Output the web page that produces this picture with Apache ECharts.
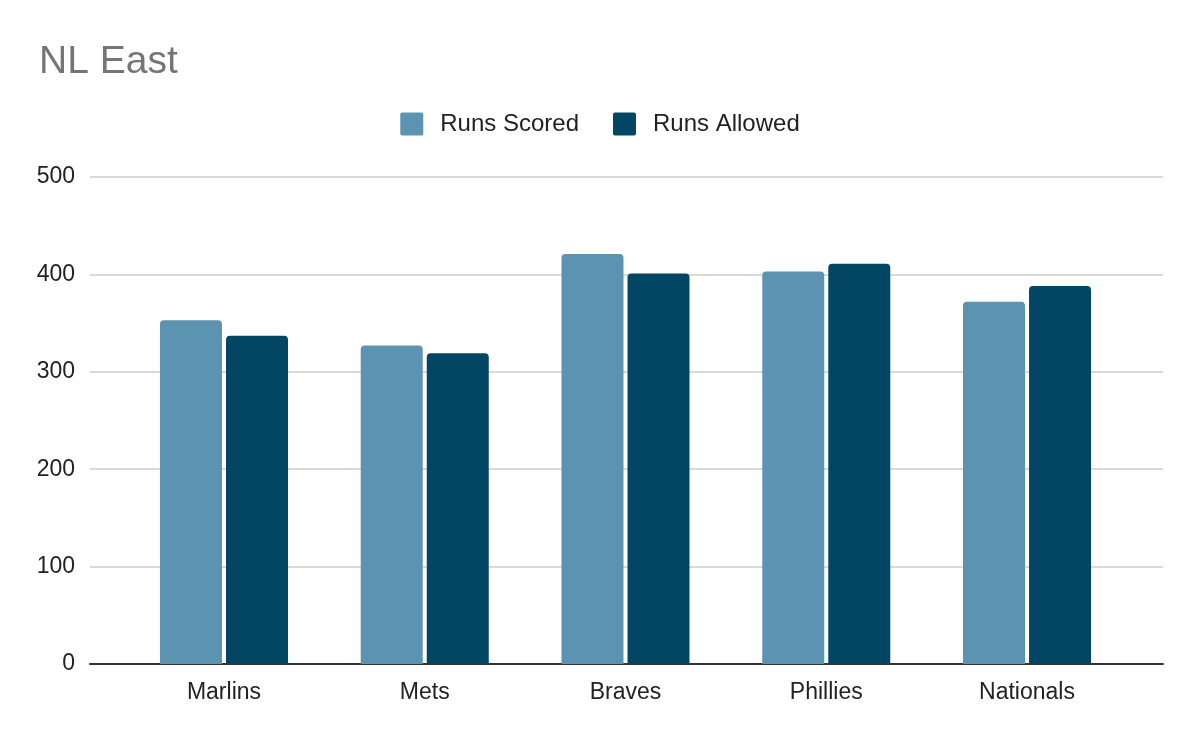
<!DOCTYPE html>
<html>
<head>
<meta charset="utf-8">
<script src="https://cdn.jsdelivr.net/npm/echarts@6/dist/echarts.min.js"></script>
<style>html,body{margin:0;padding:0;background:#fff}#chart{width:1200px;height:742px}</style>
</head>
<body>
<div id="chart"></div>
<script>
const categories = ['Marlins', 'Mets', 'Braves', 'Phillies', 'Nationals'];
const runsScored = [353, 327, 421, 403, 372];
const runsAllowed = [337, 319, 401, 411, 388];
const seriesNames = ['Runs Scored', 'Runs Allowed'];
const yTicks = { min: 0, max: 500, interval: 100 };

const chart = echarts.init(document.getElementById('chart'));
const font = "'Liberation Sans', Arial, sans-serif";
const square = 'path://M2,0 H21 Q23,0 23,2 V21 Q23,23 21,23 H2 Q0,23 0,21 V2 Q0,0 2,0 Z';
chart.setOption({
  backgroundColor: '#fff',
  animation: false,
  title: {
    text: 'NL East', left: 34, top: 38,
    textStyle: { fontFamily: font, fontSize: 39, fontWeight: 'normal', color: '#757575' }
  },
  legend: {
    data: seriesNames.map(n => ({ name: n, icon: square })), top: 107, left: 'center', itemWidth: 23, itemHeight: 23, itemGap: 34,
    textStyle: { fontFamily: font, fontSize: 24, color: '#222', padding: [0, 0, 0, 12] }
  },
  grid: [
    { left: 90, right: 37, top: 177, bottom: 78 },
    { left: 123.6, right: 72.6, top: 177, bottom: 78 }
  ],
  xAxis: [
    { gridIndex: 0, type: 'value', min: 0, max: 1, axisLine: { show: true, lineStyle: { color: '#333', width: 2 } },
      axisTick: { show: false }, axisLabel: { show: false }, splitLine: { show: false } },
    { gridIndex: 1, type: 'category', data: categories, axisLine: { show: false }, axisTick: { show: false },
      axisLabel: { fontFamily: font, fontSize: 23, color: '#222', margin: 17 } }
  ],
  yAxis: [
    { gridIndex: 0, type: 'value', min: yTicks.min, max: yTicks.max, interval: yTicks.interval,
      axisLine: { show: false }, axisTick: { show: false },
      axisLabel: { fontFamily: font, fontSize: 23, color: '#222', margin: 15, padding: [4, 0, 0, 0] },
      splitLine: { lineStyle: { color: '#cccccc', width: 1.5 } } },
    { gridIndex: 1, type: 'value', min: yTicks.min, max: yTicks.max, show: false, splitLine: { show: false } }
  ],
  series: [
    { name: seriesNames[0], type: 'bar', xAxisIndex: 1, yAxisIndex: 1, data: runsScored, barWidth: 62, barGap: '6.5%',
      itemStyle: { color: '#5b93b0', borderRadius: [4, 4, 0, 0] } },
    { name: seriesNames[1], type: 'bar', xAxisIndex: 1, yAxisIndex: 1, data: runsAllowed, barWidth: 62, barGap: '6.5%',
      itemStyle: { color: '#034663', borderRadius: [4, 4, 0, 0] } }
  ]
});
</script>
</body>
</html>
